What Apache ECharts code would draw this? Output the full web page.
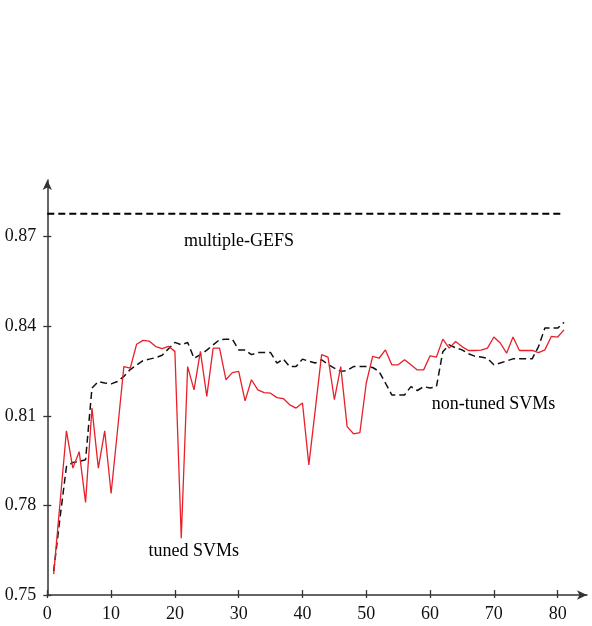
<!DOCTYPE html>
<html>
<head>
<meta charset="utf-8">
<script src="https://cdn.jsdelivr.net/npm/echarts@6/dist/echarts.min.js"></script>
<style>html,body{margin:0;padding:0;background:#fff;}#c{width:592px;height:626px;}</style>
</head>
<body>
<div id="c"></div>
<script>
// x positions (number of features / iterations)
const xs = [];
for (let i = 1; i <= 81; i++) xs.push(i);

// tuned SVMs (red)
const tuned = [
  0.757, 0.781, 0.805, 0.7925, 0.798, 0.781, 0.8126, 0.7925, 0.805, 0.784,
  0.805, 0.8265, 0.826, 0.834, 0.8353, 0.835, 0.8332, 0.8325, 0.8333, 0.8316,
  0.769, 0.8265, 0.8187, 0.8316, 0.8165, 0.8327, 0.8327, 0.8221, 0.8245, 0.8249,
  0.815, 0.8221, 0.8187, 0.8178, 0.8176, 0.8161, 0.8158, 0.8137, 0.8126, 0.8143,
  0.7936, 0.812, 0.8305, 0.8297, 0.8154, 0.8265, 0.8064, 0.804, 0.8044, 0.821,
  0.8299, 0.8293, 0.8321, 0.8271, 0.8271, 0.8288, 0.8271, 0.8254, 0.8254, 0.8301,
  0.8297, 0.8357, 0.8327, 0.8349, 0.8332, 0.8319, 0.8319, 0.832, 0.8327, 0.8364,
  0.8344, 0.831, 0.8364, 0.8319, 0.8319, 0.8319, 0.8312, 0.8321, 0.8366, 0.8364,
  0.8388
];

// non-tuned SVMs (black dashed)
const nonTuned = [
  0.758, 0.776, 0.793, 0.7944, 0.7947, 0.7953, 0.8193, 0.8215, 0.821, 0.8207,
  0.8215, 0.8232, 0.8255, 0.827, 0.8285, 0.829, 0.8295, 0.8303, 0.8325, 0.8346,
  0.8338, 0.8346, 0.8293, 0.8305, 0.832, 0.8338, 0.8355, 0.8357, 0.8357, 0.8321,
  0.8321, 0.8305, 0.8312, 0.8312, 0.8312, 0.8277, 0.829, 0.8265, 0.8265, 0.829,
  0.8283, 0.8277, 0.8288, 0.8272, 0.826, 0.8249, 0.8252, 0.8265, 0.8265, 0.8265,
  0.8262, 0.8249, 0.821, 0.817, 0.817, 0.817, 0.8198, 0.8185, 0.8198, 0.8193,
  0.8198, 0.8315, 0.8338, 0.8328, 0.8321, 0.8308, 0.83, 0.8297, 0.8293, 0.8271,
  0.8277, 0.8284, 0.8291, 0.8291, 0.8291, 0.8291, 0.8332, 0.8394, 0.8394, 0.8394,
  0.8413
];

// multiple-GEFS constant level
const gefsX = [0, 81];
const gefsValue = 0.8777;

const xTicks = [0, 10, 20, 30, 40, 50, 60, 70, 80];
const yTicks = [0.75, 0.78, 0.81, 0.84, 0.87];

const labelTexts = { gefs: 'multiple-GEFS', tuned: 'tuned SVMs', nonTuned: 'non-tuned SVMs' };

const FONT = 'Liberation Serif, "Times New Roman", serif';
const AX = '#333';
const FS = 18;

const chart = echarts.init(document.getElementById('c'), null, { renderer: 'canvas' });

const axisBase = {
  type: 'value',
  splitLine: { show: false }
};

chart.setOption({
  animation: false,
  backgroundColor: '#fff',
  grid: { left: 47.3, right: 5, top: 180, bottom: 31, containLabel: false },
  xAxis: [
    Object.assign({}, axisBase, {
      min: 0, max: 84.6,
      axisLine: { show: true, symbol: ['none', 'arrow'], symbolSize: [7, 10], lineStyle: { color: AX, width: 1.5 } },
      axisTick: { show: true, inside: false, length: 3, customValues: xTicks, lineStyle: { color: AX, width: 1.3 } },
      axisLabel: { show: true, customValues: xTicks, margin: 10, color: '#111', fontFamily: FONT, fontSize: FS }
    }),
    Object.assign({}, axisBase, {
      min: 0, max: 84.6, position: 'bottom',
      axisLine: { show: false },
      axisTick: { show: true, inside: true, length: 5, customValues: xTicks, lineStyle: { color: AX, width: 1.3 } },
      axisLabel: { show: false }
    })
  ],
  yAxis: [
    Object.assign({}, axisBase, {
      min: 0.75, max: 0.889,
      axisLine: { show: true, symbol: ['none', 'arrow'], symbolSize: [7, 10], lineStyle: { color: AX, width: 1.5 } },
      axisTick: { show: true, inside: false, length: 4, customValues: yTicks, lineStyle: { color: AX, width: 1.3 } },
      axisLabel: { show: true, customValues: yTicks, margin: 11, color: '#111', fontFamily: FONT, fontSize: FS,
        formatter: v => v.toFixed(2), padding: [3, 0, 0, 0] }
    }),
    Object.assign({}, axisBase, {
      min: 0.75, max: 0.889, position: 'left',
      axisLine: { show: false },
      axisTick: { show: true, inside: true, length: 4, customValues: yTicks, lineStyle: { color: AX, width: 1.3 } },
      axisLabel: { show: false }
    })
  ],
  series: [
    {
      name: 'multiple-GEFS', type: 'line', xAxisIndex: 0, yAxisIndex: 0,
      data: gefsX.map(x => [x, gefsValue]),
      symbol: 'none',
      lineStyle: { color: '#000', width: 2, type: [7, 4] },
      markPoint: {
        symbol: 'circle', symbolSize: 0,
        label: { show: true, position: 'inside', color: '#000', fontFamily: FONT, fontSize: FS, formatter: labelTexts.gefs },
        data: [{ coord: [30.05, 0.8684] }]
      }
    },
    {
      name: 'non-tuned SVMs', type: 'line', xAxisIndex: 0, yAxisIndex: 0,
      data: xs.map((x, i) => [x, nonTuned[i]]),
      symbol: 'none',
      lineStyle: { color: '#111', width: 1.5, type: [7, 4] },
      markPoint: {
        symbol: 'circle', symbolSize: 0,
        label: { show: true, position: 'inside', color: '#000', fontFamily: FONT, fontSize: FS, formatter: labelTexts.nonTuned },
        data: [{ coord: [69.95, 0.8139] }]
      }
    },
    {
      name: 'tuned SVMs', type: 'line', xAxisIndex: 0, yAxisIndex: 0,
      data: xs.map((x, i) => [x, tuned[i]]),
      symbol: 'none',
      lineStyle: { color: '#e8202a', width: 1.3 },
      markPoint: {
        symbol: 'circle', symbolSize: 0,
        label: { show: true, position: 'inside', color: '#000', fontFamily: FONT, fontSize: FS, formatter: labelTexts.tuned },
        data: [{ coord: [22.96, 0.7648] }]
      }
    }
  ]
});
</script>
</body>
</html>
